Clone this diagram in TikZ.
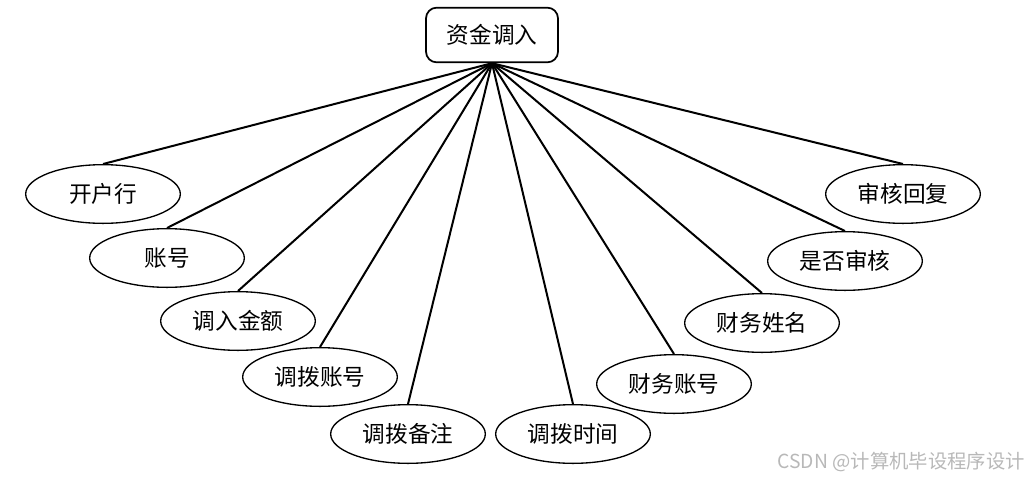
\documentclass[tikz,border=0pt]{standalone}
\usepackage{fontspec}
\setmainfont{Noto Sans CJK SC}
\newfontfamily\wmfont{Noto Sans CJK SC}
\usetikzlibrary{shapes.geometric}
\begin{document}
\begin{tikzpicture}[x=0.75pt,y=-0.75pt,
  topbox/.style={draw,line width=1.3pt,rounded corners=8pt,minimum width=99pt,minimum height=41pt,inner sep=0pt,font=\fontsize{17}{20}\selectfont},
  attr/.style={draw,ellipse,line width=1pt,minimum width=116pt,minimum height=44pt,inner sep=0pt,font=\fontsize{17}{20}\selectfont},
  link/.style={line width=1.5pt}]
\useasboundingbox (0,0) rectangle (1029,480);
\node[topbox] (top) at (492,35) {资金调入};
\node[attr] (a1) at (103,194) {开户行};
\node[attr] (a2) at (167,258) {账号};
\node[attr] (a3) at (238,321) {调入金额};
\node[attr] (a4) at (320,377) {调拨账号};
\node[attr] (a5) at (408,434) {调拨备注};
\node[attr] (a6) at (573,434) {调拨时间};
\node[attr] (a7) at (674,384) {财务账号};
\node[attr] (a8) at (762,323) {财务姓名};
\node[attr] (a9) at (845,261) {是否审核};
\node[attr] (a10) at (903,194) {审核回复};
\foreach \i in {1,...,10} \draw[link] (top.south) -- (a\i.north);
\node[text=black!28,font=\wmfont\fontsize{14.5}{16}\selectfont,anchor=east,inner sep=0pt] (wm) at (1025,462) {CSDN @计算机毕设程序设计};
\end{tikzpicture}
\end{document}
